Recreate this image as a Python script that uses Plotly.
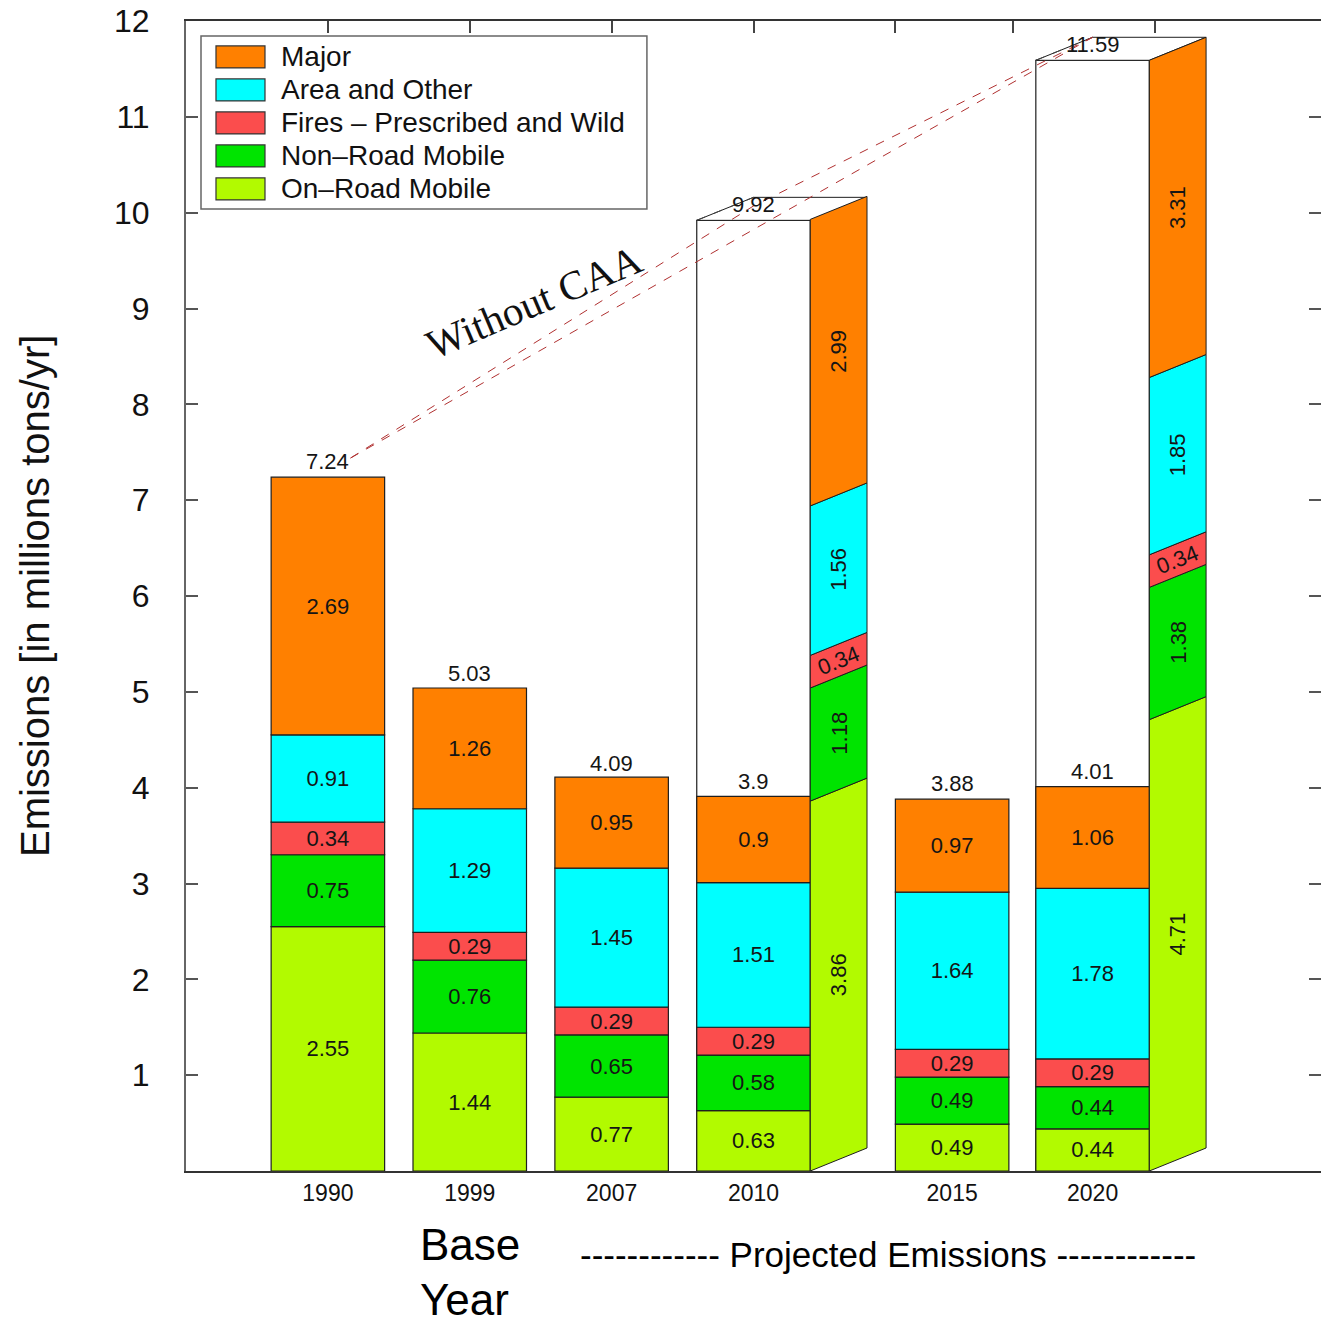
import plotly.graph_objects as go

# ---- data -------------------------------------------------------------
years = ["1990", "1999", "2007", "2010", "2015", "2020"]
xpos = [1.0, 2.0, 3.0, 4.0, 5.4, 6.39]

# stacked from the bottom up
on_road = [2.55, 1.44, 0.77, 0.63, 0.49, 0.44]
non_road = [0.75, 0.76, 0.65, 0.58, 0.49, 0.44]
fires = [0.34, 0.29, 0.29, 0.29, 0.29, 0.29]
area = [0.91, 1.29, 1.45, 1.51, 1.64, 1.78]
major = [2.69, 1.26, 0.95, 0.90, 0.97, 1.06]
totals = [7.24, 5.03, 4.09, 3.9, 3.88, 4.01]

# projections without the Clean Air Act
nocaa_years = ["2010", "2020"]
nocaa_on_road = [3.86, 4.71]
nocaa_non_road = [1.18, 1.38]
nocaa_fires = [0.34, 0.34]
nocaa_area = [1.56, 1.85]
nocaa_major = [2.99, 3.31]
nocaa_totals = [9.92, 11.59]

series_names = ["On\u2013Road Mobile", "Non\u2013Road Mobile",
                "Fires \u2013 Prescribed and Wild", "Area and Other", "Major"]
series_colors = ["#b2fa00", "#00e400", "#fb4d4d", "#00ffff", "#ff8000"]

# ---- geometry / style -------------------------------------------------
BAR_W = 0.8
DX, DY = 0.40, 0.24          # oblique depth of the "without CAA" boxes
FONT = "Liberation Sans"
EDGE = "#1e1e1e"
LABEL = "#151515"
LBL_SIZE = 22

stack = [on_road, non_road, fires, area, major]
nocaa_stack = [nocaa_on_road, nocaa_non_road, nocaa_fires, nocaa_area, nocaa_major]
xmap = dict(zip(years, xpos))
nocaa_x = [xmap[y] for y in nocaa_years]

fig = go.Figure()

# white front faces of the "without CAA" boxes
fig.add_trace(go.Bar(
    x=nocaa_x, y=nocaa_totals, base=[0] * len(nocaa_x), width=BAR_W,
    marker=dict(color="white", line=dict(color=EDGE, width=1.2)),
    showlegend=False, hoverinfo="skip"))

# top faces of those boxes
for cx, tot in zip(nocaa_x, nocaa_totals):
    xl, xr = cx - BAR_W / 2, cx + BAR_W / 2
    fig.add_trace(go.Scatter(
        x=[xl, xr, xr + DX, xl + DX, xl], y=[tot, tot, tot + DY, tot + DY, tot],
        mode="lines", fill="toself", fillcolor="white",
        line=dict(color=EDGE, width=1), showlegend=False, hoverinfo="skip"))
    fig.add_trace(go.Scatter(
        x=[xl, xl + DX], y=[tot, tot + DY], mode="lines",
        line=dict(color="#444", width=1, dash="dash"),
        showlegend=False, hoverinfo="skip"))

# stacked bars
base = [0.0] * len(years)
for vals, name, col in zip(stack, series_names, series_colors):
    fig.add_trace(go.Bar(
        x=xpos, y=vals, base=list(base), width=BAR_W, name=name,
        marker=dict(color=col, line=dict(color=EDGE, width=1.2)),
        text=[str(v) for v in vals], textposition="inside",
        insidetextanchor="middle", textangle=0, constraintext="none",
        textfont=dict(family=FONT, size=LBL_SIZE, color=LABEL),
        showlegend=False, hoverinfo="skip"))
    base = [b + v for b, v in zip(base, vals)]

# oblique side panels with the "without CAA" breakdown
annotations = []
for i, cx in enumerate(nocaa_x):
    xr = cx + BAR_W / 2
    lo = 0.0
    for k, (vals, col) in enumerate(zip(nocaa_stack, series_colors)):
        hi = lo + vals[i]
        fig.add_trace(go.Scatter(
            x=[xr, xr + DX, xr + DX, xr, xr],
            y=[lo, lo + DY, hi + DY, hi, lo],
            mode="lines", fill="toself", fillcolor=col,
            line=dict(color=EDGE, width=1), showlegend=False, hoverinfo="skip"))
        thin = vals[i] < 0.5
        annotations.append(dict(
            x=xr + DX / 2, y=(lo + hi) / 2 + DY / 2, xref="x", yref="y",
            text=str(vals[i]), showarrow=False, textangle=-22 if thin else -90,
            xanchor="center", yanchor="middle",
            font=dict(family=FONT, size=LBL_SIZE, color=LABEL)))
        lo = hi

# trend lines without the CAA
x0, y0 = xpos[0] + 0.16, totals[0] + 0.2
fig.add_trace(go.Scatter(
    x=[x0, nocaa_x[0], nocaa_x[1] - BAR_W / 2 + DX],
    y=[y0, nocaa_totals[0] + 0.15, nocaa_totals[1] + DY],
    mode="lines", line=dict(color="#b03030", width=1, dash="dash"),
    showlegend=False, hoverinfo="skip"))
fig.add_trace(go.Scatter(
    x=[x0, nocaa_x[1] - BAR_W / 2 + DX], y=[y0, nocaa_totals[1] + DY],
    mode="lines", line=dict(color="#b03030", width=1, dash="dash"),
    showlegend=False, hoverinfo="skip"))

# totals above the bars
for cx, t in list(zip(xpos, totals)) + list(zip(nocaa_x, nocaa_totals)):
    annotations.append(dict(x=cx, y=t, xref="x", yref="y", text=str(t),
                            showarrow=False, xanchor="center", yanchor="bottom",
                            yshift=1,
                            font=dict(family=FONT, size=LBL_SIZE, color=LABEL)))

annotations.append(dict(x=2.45, y=9.07, xref="x", yref="y", text="Without CAA",
                        showarrow=False, textangle=-23,
                        xanchor="center", yanchor="middle",
                        font=dict(family="Liberation Serif", size=41, color="#111")))

# legend drawn as a framed box in data units
PX = 1 / 141.9
PY = 1 / 95.83
shapes = [dict(type="rect", xref="x", yref="y",
               x0=(201 - 186) * PX, x1=(647 - 186) * PX,
               y0=(1171 - 209) * PY, y1=(1171 - 36) * PY,
               line=dict(color="#666", width=1.5), fillcolor="white", layer="above")]
for row, k in enumerate(reversed(range(len(series_names)))):
    yc = (1171 - (57 + 33 * row)) * PY
    shapes.append(dict(type="rect", xref="x", yref="y",
                       x0=(216 - 186) * PX, x1=(265 - 186) * PX,
                       y0=yc - 11 * PY, y1=yc + 11 * PY,
                       fillcolor=series_colors[k], line=dict(color="#333", width=1.2),
                       layer="above"))
    annotations.append(dict(x=(279 - 186) * PX, y=yc, xref="x", yref="y",
                            text=series_names[k], showarrow=False,
                            xanchor="left", yanchor="middle",
                            font=dict(family=FONT, size=28, color="#111")))

# axis titles and captions
annotations.append(dict(x=-0.133, y=0.50, xref="paper", yref="paper",
                        text="Emissions [in millions tons/yr]", showarrow=False,
                        textangle=-90, xanchor="center", yanchor="middle",
                        font=dict(family=FONT, size=40, color="#111")))
annotations.append(dict(x=(418 - 186) * PX, y=-0.064, xref="x", yref="paper",
                        text="Base", showarrow=False, xanchor="left", yanchor="middle",
                        font=dict(family=FONT, size=44, color="#000")))
annotations.append(dict(x=(418 - 186) * PX, y=-0.112, xref="x", yref="paper",
                        text="Year", showarrow=False, xanchor="left", yanchor="middle",
                        font=dict(family=FONT, size=44, color="#000")))
annotations.append(dict(x=(888 - 186) * PX, y=-0.073, xref="x", yref="paper",
                        text="------------ Projected Emissions ------------",
                        showarrow=False, xanchor="center", yanchor="middle",
                        font=dict(family=FONT, size=35, color="#000")))

# carrier for the top and right tick marks
fig.add_trace(go.Scatter(x=[0], y=[0], xaxis="x2", yaxis="y2", mode="markers",
                         marker=dict(opacity=0), showlegend=False, hoverinfo="skip"))

fig.update_layout(
    width=1321, height=1324,
    margin=dict(l=186, r=0, t=21, b=153),
    paper_bgcolor="white", plot_bgcolor="white",
    barmode="overlay", showlegend=False,
    font=dict(family=FONT, color="#111"),
    xaxis=dict(range=[0, 8], tickvals=xpos, ticktext=years, ticks="",
               showline=True, linecolor="#333", linewidth=2, mirror=True,
               showgrid=False, zeroline=False,
               tickfont=dict(family=FONT, size=23, color="#111")),
    xaxis2=dict(range=[0, 8], overlaying="x", side="top", anchor="y",
                tickvals=[1, 2, 3, 4, 5, 5.83, 6.83], ticks="inside", ticklen=12,
                tickwidth=1.5, tickcolor="#444", showticklabels=False,
                showgrid=False, zeroline=False, showline=False),
    yaxis=dict(range=[0, 12], tickvals=list(range(1, 13)), ticks="inside",
               ticklen=12, tickwidth=1.5, tickcolor="#555",
               showline=True, linecolor="#666", linewidth=2, mirror=False,
               showgrid=False, zeroline=False, ticklabelstandoff=28,
               tickfont=dict(family=FONT, size=32, color="#111")),
    yaxis2=dict(range=[0, 12], overlaying="y", side="right", anchor="x",
                tickvals=list(range(1, 13)), ticks="inside", ticklen=12,
                tickwidth=1.5, tickcolor="#555", showticklabels=False,
                showgrid=False, zeroline=False, showline=False),
    shapes=shapes, annotations=annotations,
)

fig.write_html("out.html")
